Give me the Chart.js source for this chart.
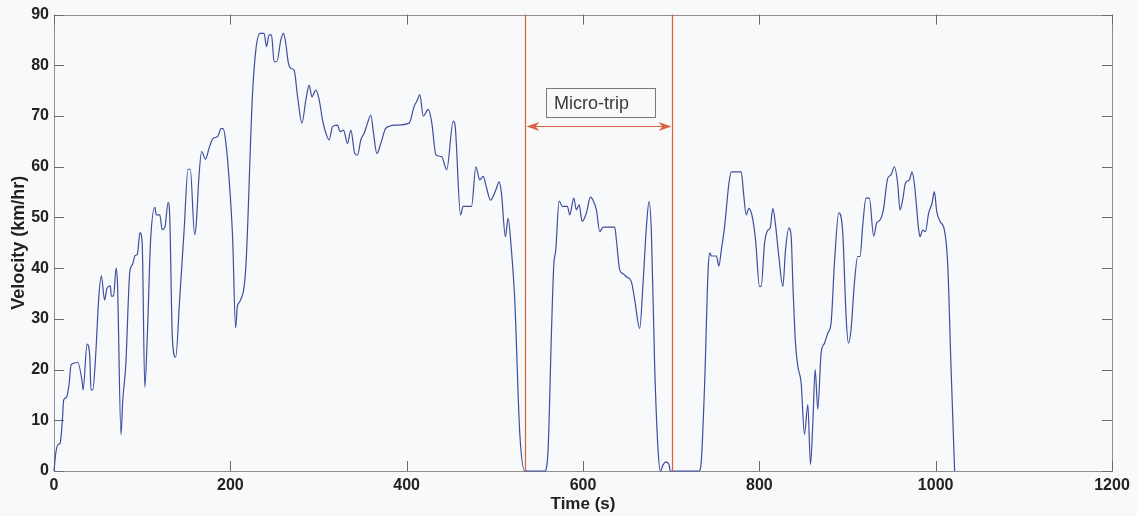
<!DOCTYPE html>
<html>
<head>
<meta charset="utf-8">
<script src="https://cdn.jsdelivr.net/npm/chart.js@4/dist/chart.umd.min.js"></script>
<style>
  html, body { margin: 0; padding: 0; background: #f8f9fb; }
  #wrap { width: 1137px; height: 516px; }
</style>
</head>
<body>
<div id="wrap"><canvas id="c" width="1137" height="516"></canvas></div>
<script>
// ---- data ----
const times = [
  0, 2, 4.5, 7, 9.4, 11, 14, 17, 19.5, 27, 32, 33, 37.5, 40.5, 42, 44, 47, 50.7, 53.7, 57.4,
  60, 64, 65, 67.5, 70.5, 72, 76, 78, 81.4, 86, 89, 92, 94.5, 97.5, 100, 103, 106, 109.5, 114.5, 116,
  120, 122.7, 125.7, 129.5, 131.3, 134.3, 138, 142.6, 147.5, 152, 154.6, 159.5, 161.3, 164.4, 167.4, 171.9, 175.6, 180, 185.7, 189.5,
  192, 195, 199, 202.6, 206, 208, 211, 217.6, 225, 228.9, 233.8, 238.3, 241, 244, 246.7, 249.7, 252.7, 257.3, 260.3, 262.9,
  265.6, 268.6, 272.4, 276.2, 281.2, 285.7, 289.4, 292.5, 297, 300.8, 304.6, 308.4, 312.1, 315.9, 321.5, 324.6, 328.4, 332.9, 336.7, 341.2,
  344.3, 348, 351.8, 355.6, 359.4, 362.4, 366.2, 370.7, 376.4, 387.7, 402.8, 408.5, 412.3, 414.9, 418.8, 424.5, 428.3, 433.3, 439.7, 445.4,
  452.8, 454.8, 461.1, 464.1, 473.6, 478.5, 483, 486.8, 490.6, 495.1, 501.1, 504.9, 507.5, 512, 515, 518.8, 522.6, 528.3, 534, 556.6,
  560.4, 564.2, 566.8, 569.1, 572.9, 576.7, 582.3, 585, 589.5, 592.5, 595.6, 599, 603.9, 608.4, 611.4, 615.2, 619, 622.8, 636, 637.9,
  641.7, 645.5, 649.2, 654.9, 658.7, 664.3, 668.1, 671.9, 674.9, 677.6, 681.3, 685.1, 687.8, 690.8, 693.8, 697.6, 699.1, 731.6, 734.3, 738,
  742, 744, 745.6, 751.3, 754.1, 756.9, 760.6, 765.5, 768.2, 779.5, 782.1, 785.1, 788.2, 791.9, 795.7, 800.2, 802.1, 805.9, 809.7, 812.3,
  815.3, 818.4, 822.1, 826.7, 829.7, 833.5, 836.1, 838, 841, 843.7, 847.4, 851.2, 855, 858, 860.7, 863.3, 866.3, 870.1, 873.9, 877.7,
  881.4, 885.2, 890.1, 894.6, 898.4, 901, 904, 907.8, 911.6, 914.2, 917.3, 921, 924.8, 929.7, 933.1, 936.9, 940.7, 945.6, 949.4, 953.2,
  956.9, 959.6, 962.6, 965.6, 970.2, 973.2, 975.8, 980.8, 982.3, 985.3, 988.3, 992.1, 995.9, 998.5, 1001.2, 1005, 1009.9, 1013.6, 1017.4, 1021.5
];
const speeds = [
  0, 3.5, 5.2, 5.5, 9.8, 14, 14.5, 17, 21, 21.4, 17.5, 16, 25, 22.8, 16, 16, 22, 34, 38.5, 33.7,
  36, 36.5, 34.5, 34.5, 40, 37, 7.2, 14, 20.8, 39.3, 40.7, 42.5, 42.7, 47, 45, 16.5, 27.4, 45.3, 52, 50.5,
  50.5, 47.6, 48, 53, 50, 26, 22.4, 34, 47.3, 59.5, 59.5, 46.6, 48.6, 58, 63, 61.5, 63.5, 65.5, 66, 67.5,
  67.5, 64.6, 56.6, 46, 28.2, 32.5, 33.5, 40.3, 73.8, 83, 86.3, 86.3, 83.7, 86, 86, 80.7, 80.7, 85, 86.3, 84.3,
  80.7, 79.4, 79, 73.9, 68.6, 73.2, 76.1, 73.8, 75.1, 73.2, 69.2, 66.6, 65.3, 67.9, 68.2, 66.9, 67.2, 64.6, 67.2, 62.6,
  62.3, 65.3, 66.6, 68.6, 70.2, 66.6, 62.6, 64.6, 67.6, 68.2, 68.6, 71.9, 73.2, 74.2, 70, 71.3, 68.9, 62.3, 62, 59.4,
  69, 68.3, 50.5, 52.2, 52.2, 60, 57.4, 58.1, 55.8, 53.4, 55.4, 57, 54.8, 46.2, 49.8, 43.6, 33.7, 7.4, 0, 0,
  4.2, 27.2, 40.4, 43.6, 53.2, 52.2, 52.2, 50.5, 53.8, 51.5, 52.5, 49.2, 50.9, 54, 53.4, 51.5, 47.2, 48.1, 48.1, 45.5,
  39.6, 38.9, 38.3, 37.3, 33.7, 28.1, 37, 48.1, 53.1, 46.9, 20.6, 4.2, 0, 1.2, 1.8, 1.2, 0, 0, 2.3, 17.4,
  40, 43, 42.4, 42.4, 40.4, 43.6, 48.2, 56.7, 59, 59, 54.8, 50.5, 51.8, 50.2, 45.6, 36.4, 36.4, 44.9, 47.5, 47.9,
  51.8, 48.5, 42.3, 36.4, 43.6, 47.9, 46.3, 37, 25.2, 20.6, 17.4, 7.2, 13.1, 1.3, 9.5, 20, 12.2, 23.3, 25.2, 27.2,
  29.2, 41, 50.9, 47, 30.5, 25.2, 27.8, 37, 42.3, 42.3, 48.5, 53.8, 53.8, 46.3, 48.9, 49.5, 51.5, 57.7, 58.4, 60,
  56.7, 51.5, 53.5, 56.7, 57.4, 59, 56.7, 47.5, 46.2, 47.5, 47.2, 50.9, 52.8, 55.1, 51.2, 49.2, 47.5, 41, 20.6, 0
];
const xTickValues = [0, 200, 400, 600, 800, 1000, 1200];
const yTickValues = [0, 10, 20, 30, 40, 50, 60, 70, 80, 90];
const xTitle = 'Time (s)';
const yTitle = 'Velocity (km/hr)';
const microTripLabel = 'Micro-trip';
const microTripStart = 534;
const microTripEnd = 701;

// ---- styling ----
const FONT = "'Liberation Sans', Arial, sans-serif";
const lineColor = '#3d4f9c';
const redColor = '#d9623e';
const boxColor = '#8e8e8e';
const tickMarkColor = '#6a6a6a';

const points = times.map((t, i) => ({ x: t, y: speeds[i] }));

const framePlugin = {
  id: 'frame',
  beforeDraw(chart) {
    const ctx = chart.ctx;
    ctx.save();
    ctx.fillStyle = '#f8f9fb';
    ctx.fillRect(0, 0, chart.width, chart.height);
    ctx.restore();
  },
  beforeDatasetsDraw(chart) {
    const { ctx, chartArea: a, scales } = chart;
    ctx.save();
    ctx.strokeStyle = boxColor;
    ctx.lineWidth = 1;
    ctx.strokeRect(Math.round(a.left) + 0.5, Math.round(a.top) + 0.5,
      Math.round(a.right - a.left), Math.round(a.bottom - a.top));
    ctx.strokeStyle = tickMarkColor;
    const L = 10;
    ctx.beginPath();
    xTickValues.forEach(v => {
      const x = Math.round(scales.x.getPixelForValue(v)) + 0.5;
      ctx.moveTo(x, a.bottom); ctx.lineTo(x, a.bottom - L);
      ctx.moveTo(x, a.top); ctx.lineTo(x, a.top + L);
    });
    yTickValues.forEach(v => {
      const y = Math.round(scales.y.getPixelForValue(v)) + 0.5;
      ctx.moveTo(a.left, y); ctx.lineTo(a.left + L, y);
      ctx.moveTo(a.right, y); ctx.lineTo(a.right - L, y);
    });
    ctx.stroke();
    ctx.restore();
  },
  afterDatasetsDraw(chart) {
    const { ctx, chartArea: a, scales } = chart;
    const x1 = Math.round(scales.x.getPixelForValue(microTripStart)) + 0.5;
    const x2 = Math.round(scales.x.getPixelForValue(microTripEnd)) + 0.5;
    ctx.save();
    ctx.strokeStyle = redColor;
    ctx.fillStyle = redColor;
    ctx.lineWidth = 1.2;
    ctx.beginPath();
    ctx.moveTo(x1, a.top); ctx.lineTo(x1, a.bottom);
    ctx.stroke();
    ctx.beginPath();
    ctx.moveTo(x2, a.top); ctx.lineTo(x2, a.bottom);
    ctx.stroke();
    // double arrow
    ctx.lineWidth = 1;
    const ay = Math.round(scales.y.getPixelForValue(68)) + 0.5;
    ctx.beginPath();
    ctx.moveTo(x1 + 4, ay); ctx.lineTo(x2 - 4, ay);
    ctx.stroke();
    const head = (tip, dir) => {
      ctx.beginPath();
      ctx.moveTo(tip, ay);
      ctx.lineTo(tip + dir * 13, ay - 4.5);
      ctx.lineTo(tip + dir * 9, ay);
      ctx.lineTo(tip + dir * 13, ay + 4.5);
      ctx.closePath();
      ctx.fill();
    };
    head(x1 + 1, 1);
    head(x2 - 1, -1);
    // label box
    const bx1 = Math.round(scales.x.getPixelForValue(558)) + 0.5;
    const bx2 = Math.round(scales.x.getPixelForValue(681.5)) + 0.5;
    const by1 = Math.round(scales.y.getPixelForValue(75.5)) + 0.5;
    const by2 = Math.round(scales.y.getPixelForValue(69.9)) + 0.5;
    ctx.strokeStyle = '#7a7a7a';
    ctx.strokeRect(bx1, by1, bx2 - bx1, by2 - by1);
    ctx.fillStyle = '#3a3a3a';
    ctx.font = '18px ' + FONT;
    ctx.textAlign = 'left';
    ctx.textBaseline = 'middle';
    ctx.fillText(microTripLabel, bx1 + 7.5, (by1 + by2) / 2 + 1);
    ctx.restore();
  }
};

new Chart(document.getElementById('c'), {
  type: 'line',
  data: {
    datasets: [{
      data: points,
      borderColor: lineColor,
      borderWidth: 1.2,
      pointRadius: 0,
      fill: false,
      cubicInterpolationMode: 'monotone',
      clip: 2
    }]
  },
  options: {
    responsive: false,
    animation: false,
    events: [],
    layout: { padding: { left: 0, right: 25, top: 14, bottom: 0 } },
    plugins: { legend: { display: false }, tooltip: { enabled: false } },
    scales: {
      x: {
        type: 'linear',
        min: 0, max: 1200,
        afterBuildTicks(s) { s.ticks = xTickValues.map(v => ({ value: v })); },
        afterFit(s) { s.height = 45; },
        grid: { display: false, drawTicks: false },
        border: { display: false },
        ticks: { color: '#222', font: { family: FONT, size: 16, weight: 'bold' }, padding: 5, maxRotation: 0, autoSkip: false,
                 callback: v => String(v) },
        title: { display: true, text: xTitle, color: '#222', font: { family: FONT, size: 17, weight: 'bold' }, padding: { top: 0, bottom: 1 } }
      },
      y: {
        type: 'linear',
        min: 0, max: 90,
        afterBuildTicks(s) { s.ticks = yTickValues.map(v => ({ value: v })); },
        afterFit(s) { s.width = 54; },
        grid: { display: false, drawTicks: false },
        border: { display: false },
        ticks: { color: '#222', font: { family: FONT, size: 16, weight: 'bold' }, padding: 5, autoSkip: false,
                 callback: v => String(v) },
        title: { display: true, text: yTitle, color: '#222', font: { family: FONT, size: 18, weight: 'bold' }, padding: { top: 8, bottom: 0 } }
      }
    }
  },
  plugins: [framePlugin]
});
</script>
</body>
</html>
